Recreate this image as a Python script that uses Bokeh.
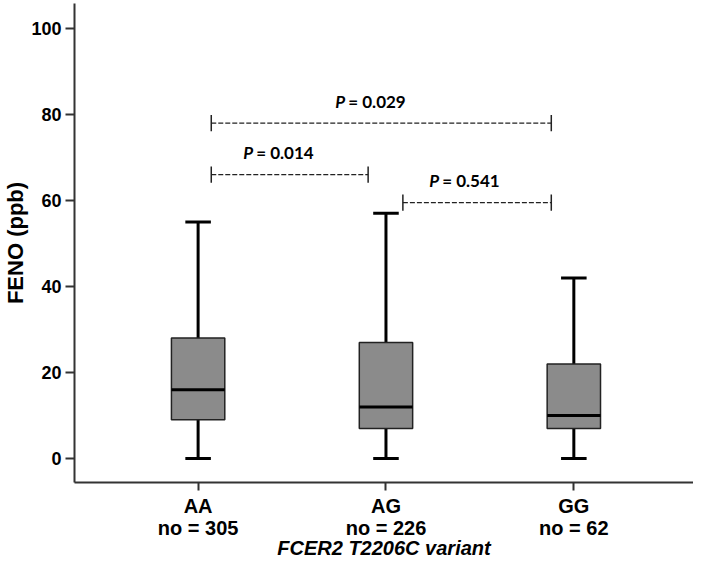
from bokeh.plotting import figure
from bokeh.models import Range1d, FixedTicker, ColumnDataSource
from bokeh.core.properties import value
from bokeh.embed import file_html
from bokeh.resources import INLINE

# ---- data ----
groups = ["AA", "AG", "GG"]
counts = [305, 226, 62]
xpos = [1, 2, 3]
whisker_low = [0, 0, 0]
q1 = [9, 7, 7]
median = [16, 12, 10]
q3 = [28, 27, 22]
whisker_high = [55, 57, 42]

# pairwise comparisons (bracket start/end on the x scale, height on the y scale)
comp_x0 = [1.07, 1.07, 2.09]
comp_x1 = [2.88, 1.905, 2.88]
comp_y = [78, 66, 59.5]
comp_text_x = [1.895, 1.405, 2.395]
comp_p = ["0.029", "0.014", "0.541"]

y_ticks = [0, 20, 40, 60, 80, 100]
x_title = "FCER2 T2206C variant"
y_title = "FENO (ppb)"

FONT = "Liberation Sans"

p = figure(width=693, height=562, output_backend="svg", toolbar_location=None,
           x_range=Range1d(0.342, 3.637), y_range=Range1d(-5.58, 105.8),
           min_border_left=67, min_border_right=0, min_border_top=3,
           min_border_bottom=80)
p.outline_line_color = None
p.xgrid.visible = False
p.ygrid.visible = False

box_w = 0.284
cap_w = 0.136
left = [x - box_w / 2 for x in xpos]
right = [x + box_w / 2 for x in xpos]
cap_l = [x - cap_w / 2 for x in xpos]
cap_r = [x + cap_w / 2 for x in xpos]

src = ColumnDataSource(dict(x=xpos, low=whisker_low, q1=q1, med=median, q3=q3,
                            high=whisker_high, left=left, right=right,
                            cl=cap_l, cr=cap_r))

# whiskers
p.segment(x0="x", y0="q3", x1="x", y1="high", source=src, line_color="black", line_width=3)
p.segment(x0="x", y0="low", x1="x", y1="q1", source=src, line_color="black", line_width=3)
# caps
p.segment(x0="cl", y0="high", x1="cr", y1="high", source=src, line_color="black", line_width=3)
p.segment(x0="cl", y0="low", x1="cr", y1="low", source=src, line_color="black", line_width=3)
# boxes
p.vbar(x="x", width=box_w, bottom="q1", top="q3", source=src,
       fill_color="#8b8b8b", line_color="#222222", line_width=1.5)
# medians
p.segment(x0="left", y0="med", x1="right", y1="med", source=src, line_color="black", line_width=3)

# comparison brackets
tick_half = 1.9
csrc = ColumnDataSource(dict(x0=comp_x0, x1=comp_x1, y=comp_y,
                             yl=[y - tick_half for y in comp_y],
                             yh=[y + tick_half for y in comp_y],
                             tx=comp_text_x,
                             ty=[y + 2.6 for y in comp_y],
                             p=["P" for _ in comp_p],
                             rest=["= " + s for s in comp_p]))
p.segment(x0="x0", y0="y", x1="x1", y1="y", source=csrc, line_color="#222222",
          line_width=1.3, line_dash="5 2")
p.segment(x0="x0", y0="yl", x1="x0", y1="yh", source=csrc, line_color="#222222", line_width=1.5)
p.segment(x0="x1", y0="yl", x1="x1", y1="yh", source=csrc, line_color="#222222", line_width=1.5)
p.text(x="tx", y="ty", text="p", source=csrc, x_offset=-31, text_align="left",
       text_baseline="bottom", text_font=value("Lato"), text_font_style="bold italic",
       text_font_size="17px", text_color="black")
p.text(x="tx", y="ty", text="rest", source=csrc, x_offset=-18, text_align="left",
       text_baseline="bottom", text_font=value("Lato"), text_font_style="bold",
       text_font_size="17px", text_color="black")

# axes
for ax in (p.xaxis[0], p.yaxis[0]):
    ax.axis_line_color = "#333333"
    ax.axis_line_width = 2
    ax.major_tick_line_color = "#333333"
    ax.major_tick_line_width = 2
    ax.major_tick_in = 0
    ax.minor_tick_line_color = None
    ax.major_label_text_font = FONT
    ax.major_label_text_font_style = "bold"
    ax.major_label_text_color = "black"
    ax.axis_label_text_font = FONT
    ax.axis_label_text_color = "black"

p.yaxis.ticker = FixedTicker(ticks=y_ticks)
p.yaxis.major_tick_out = 9
p.yaxis.axis_label = y_title
p.yaxis.axis_label_text_font_style = "bold"
p.yaxis.axis_label_text_font_size = "22px"
p.yaxis.axis_label_text_line_height = 0.9
p.yaxis.major_label_text_font_size = "18px"
p.yaxis.major_label_standoff = 4
p.yaxis.axis_label_standoff = 0

p.xaxis.ticker = FixedTicker(ticks=xpos)
p.xaxis.major_tick_out = 8
p.xaxis.major_label_overrides = {x: f"{g}\nno = {n}" for x, g, n in zip(xpos, groups, counts)}
p.xaxis.major_label_text_font_size = "20px"
p.xaxis.major_label_text_line_height = 1.0
p.xaxis.major_label_standoff = 4
p.xaxis.axis_label = x_title
p.xaxis.axis_label_text_font_style = "bold italic"
p.xaxis.axis_label_text_font_size = "20px"
p.xaxis.axis_label_text_line_height = 0.9
p.xaxis.axis_label_standoff = -5

open("out.html", "w").write(file_html(p, INLINE))
